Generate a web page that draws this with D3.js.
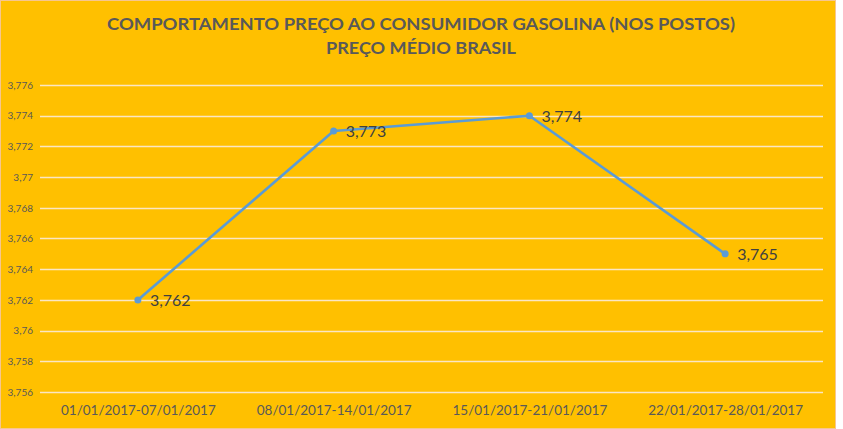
<!DOCTYPE html>
<html>
<head>
<meta charset="utf-8">
<script src="https://cdn.jsdelivr.net/npm/d3@7"></script>
<style>
  body { margin: 0; background: #fff; }
  text { font-family: Lato, "Open Sans", sans-serif; }
</style>
</head>
<body>
<div id="chart"></div>
<script>
// dados
var semanas = ["01/01/2017-07/01/2017", "08/01/2017-14/01/2017", "15/01/2017-21/01/2017", "22/01/2017-28/01/2017"];
var precos = [3.762, 3.773, 3.774, 3.765];
var yTicks = [3.756, 3.758, 3.76, 3.762, 3.764, 3.766, 3.768, 3.77, 3.772, 3.774, 3.776];
var titulo = ["COMPORTAMENTO PREÇO AO CONSUMIDOR GASOLINA (NOS POSTOS)", "PREÇO MÉDIO BRASIL"];

var W = 843, H = 429,
  margin = {top: 85, bottom: 37, left: 40, right: 20},
  grey = "#595959";

var fmt = function (v) { return String(+v.toFixed(3)).replace(".", ","); };

var svg = d3.select("#chart").append("svg")
  .attr("width", W)
  .attr("height", H);

svg.append("rect")
  .attr("x", 0.5).attr("y", 0.5)
  .attr("width", W - 8).attr("height", H - 1)
  .attr("fill", "#FFC000")
  .attr("stroke", "#F6C690");

var x = d3.scalePoint()
  .domain(semanas)
  .range([margin.left, W - margin.right])
  .padding(0.5);

var y = d3.scaleLinear()
  .domain([3.756, 3.776])
  .range([H - margin.bottom, margin.top]);

// grade
svg.append("g")
  .selectAll("line")
  .data(yTicks)
  .enter().append("line")
  .attr("x1", margin.left)
  .attr("x2", W - margin.right)
  .attr("y1", d => Math.round(y(d)) + 0.5)
  .attr("y2", d => Math.round(y(d)) + 0.5)
  .attr("stroke", "#FBE6C4")
  .attr("stroke-width", 1.3);

// eixo y
var yAxis = svg.append("g")
  .attr("transform", "translate(" + margin.left + ",0)")
  .call(d3.axisLeft(y).tickValues(yTicks).tickFormat(fmt).tickSize(0).tickPadding(7));
yAxis.select(".domain").remove();
yAxis.selectAll("text")
  .attr("fill", grey)
  .style("font-size", "10px");

// eixo x
var xAxis = svg.append("g")
  .attr("transform", "translate(0," + (H - margin.bottom) + ")")
  .call(d3.axisBottom(x).tickSize(0).tickPadding(13));
xAxis.select(".domain").remove();
xAxis.selectAll("text")
  .attr("fill", grey)
  .style("font-size", "13.5px");

// linha
var line = d3.line()
  .x((d, i) => x(semanas[i]))
  .y(d => y(d));

svg.append("path")
  .datum(precos)
  .attr("d", line)
  .attr("fill", "none")
  .attr("stroke", "#5B9BD5")
  .attr("stroke-width", 2.6)
  .attr("stroke-linejoin", "round");

svg.selectAll(".dot")
  .data(precos)
  .enter().append("circle")
  .attr("class", "dot")
  .attr("cx", (d, i) => x(semanas[i]))
  .attr("cy", d => y(d))
  .attr("r", 3.5)
  .attr("fill", "#5B9BD5");

svg.selectAll(".rotulo")
  .data(precos)
  .enter().append("text")
  .attr("class", "rotulo")
  .attr("x", (d, i) => x(semanas[i]) + 12)
  .attr("y", d => y(d) + 6)
  .attr("fill", "#404040")
  .style("font-size", "16px")
  .text(fmt);

// titulo
svg.selectAll(".titulo")
  .data(titulo)
  .enter().append("text")
  .attr("class", "titulo")
  .attr("x", 421)
  .attr("y", (d, i) => 30 + i * 24)
  .attr("text-anchor", "middle")
  .attr("fill", grey)
  .style("font-size", "17.5px")
  .style("font-weight", "bold")
  .attr("textLength", (d, i) => i == 0 ? 628 : 190)
  .attr("lengthAdjust", "spacingAndGlyphs")
  .text(d => d);
</script>
</body>
</html>
